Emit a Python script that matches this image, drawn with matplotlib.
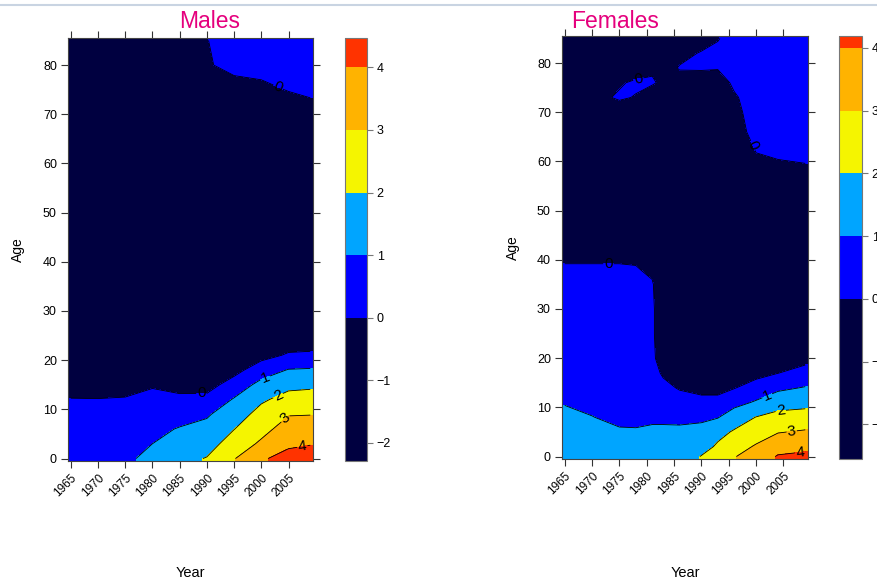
import numpy as np
import matplotlib
matplotlib.use('Agg')
import matplotlib.pyplot as plt
from matplotlib.lines import Line2D

plt.rcParams['font.family'] = ['Liberation Sans', 'DejaVu Sans']

# Males: grid, one list per year (values over ages)
male_years = [1965, 1970, 1975, 1980, 1985, 1990, 1995, 2000, 2005, 2009]
male_ages = [0, 3, 6, 9, 12, 15, 18, 21, 25, 30, 40, 50, 60, 70, 75, 80, 85]
male_values = [
    [0.90, 0.80, 0.60, 0.35, 0.03, -0.30, -0.60, -0.90, -1.20, -1.50, -1.90, -2.10, -1.80, -1.30, -1.00, -0.80, -0.60],
    [0.90, 0.80, 0.60, 0.35, 0.02, -0.30, -0.60, -0.90, -1.20, -1.60, -2.00, -2.29, -1.90, -1.30, -1.00, -0.80, -0.60],
    [0.80, 0.75, 0.60, 0.40, 0.05, -0.25, -0.55, -0.85, -1.20, -1.50, -1.90, -2.10, -1.80, -1.20, -0.90, -0.70, -0.50],
    [1.30, 1.00, 0.80, 0.55, 0.30, -0.10, -0.50, -0.80, -1.10, -1.40, -1.80, -2.00, -1.70, -1.10, -0.80, -0.60, -0.45],
    [1.70, 1.35, 1.05, 0.70, 0.20, -0.30, -0.60, -0.90, -1.10, -1.40, -1.80, -2.00, -1.70, -1.00, -0.70, -0.45, -0.25],
    [2.05, 1.60, 1.25, 0.90, 0.25, -0.35, -0.60, -0.90, -1.10, -1.40, -1.70, -1.90, -1.60, -0.80, -0.45, -0.05, -0.02],
    [2.95, 2.45, 1.98, 1.50, 1.08, 0.40, -0.30, -0.70, -1.00, -1.30, -1.60, -1.80, -1.40, -0.50, -0.20, 0.15, 0.30],
    [3.90, 3.15, 2.70, 2.35, 1.85, 1.30, 0.50, -0.30, -0.80, -1.10, -1.40, -1.60, -1.20, -0.40, -0.10, 0.15, 0.35],
    [4.30, 3.85, 3.40, 2.95, 2.35, 1.75, 1.05, 0.10, -0.60, -0.90, -1.20, -1.40, -1.00, -0.25, 0.02, 0.25, 0.40],
    [4.47, 3.95, 3.50, 2.97, 2.45, 1.80, 1.10, 0.15, -0.60, -0.90, -1.20, -1.40, -1.00, -0.20, 0.10, 0.30, 0.45],
]

# Females
female_years = [1965, 1970, 1975, 1978, 1981, 1983, 1986, 1990, 1993, 1996, 2000, 2004, 2009]
female_ages = [0, 2, 5, 8, 11, 14, 17, 20, 25, 30, 35, 38, 41, 50, 58, 62, 66, 70, 73, 76, 79, 82, 85]
female_values = [
    [1.50, 1.40, 1.25, 1.12, 0.97, 0.85, 0.75, 0.65, 0.55, 0.45, 0.30, 0.10, -0.15, -1.00, -1.60, -1.80, -1.80, -1.50, -1.20, -1.00, -0.90, -0.90, -0.90],
    [1.45, 1.30, 1.15, 1.01, 0.90, 0.80, 0.70, 0.62, 0.55, 0.45, 0.30, 0.10, -0.15, -1.20, -1.80, -2.00, -1.90, -0.80, -0.30, -0.60, -0.90, -0.90, -0.90],
    [1.35, 1.20, 1.05, 0.90, 0.80, 0.72, 0.65, 0.60, 0.55, 0.45, 0.30, 0.10, -0.15, -1.30, -2.00, -2.30, -2.00, -0.50, 0.12, -0.10, -0.70, -0.80, -0.90],
    [1.30, 1.18, 1.04, 0.90, 0.80, 0.72, 0.65, 0.60, 0.55, 0.45, 0.30, 0.08, -0.20, -1.40, -2.10, -2.40, -2.10, -1.00, -0.05, 0.15, -0.50, -0.80, -0.90],
    [1.25, 1.15, 1.04, 0.96, 0.85, 0.60, 0.40, 0.25, 0.20, 0.20, 0.10, -0.20, -0.50, -1.50, -2.20, -2.55, -2.20, -1.20, -0.60, 0.12, -0.15, -0.60, -0.70],
    [1.30, 1.17, 1.05, 0.95, 0.70, 0.30, -0.15, -0.60, -0.80, -0.80, -0.80, -0.90, -1.00, -1.60, -2.20, -2.40, -2.20, -1.40, -0.90, -0.20, -0.30, -0.20, -0.30],
    [1.35, 1.20, 1.07, 0.92, 0.50, -0.10, -0.60, -1.00, -1.20, -1.20, -1.20, -1.20, -1.30, -1.70, -2.00, -2.00, -1.80, -1.30, -0.90, -0.30, 0.05, -0.20, -0.50],
    [2.05, 1.60, 1.25, 0.85, 0.30, -0.30, -0.70, -1.00, -1.20, -1.30, -1.30, -1.30, -1.30, -1.50, -1.70, -1.70, -1.50, -1.10, -0.80, -0.50, 0.10, 0.05, -0.30],
    [2.50, 2.15, 1.70, 0.95, 0.30, -0.30, -0.70, -1.00, -1.20, -1.30, -1.30, -1.30, -1.30, -1.40, -1.50, -1.40, -1.20, -0.90, -0.60, -0.40, 0.05, 0.20, -0.05],
    [2.95, 2.60, 2.10, 1.50, 0.70, -0.05, -0.50, -0.80, -1.00, -1.20, -1.20, -1.20, -1.20, -1.20, -1.00, -0.80, -0.40, -0.25, -0.10, 0.15, 0.30, 0.40, 0.35],
    [3.45, 3.10, 2.55, 2.02, 1.10, 0.40, -0.30, -0.70, -1.00, -1.20, -1.20, -1.20, -1.20, -1.00, -0.30, 0.02, 0.30, 0.40, 0.40, 0.42, 0.45, 0.45, 0.45],
    [4.08, 3.62, 2.95, 2.30, 1.60, 0.80, -0.02, -0.50, -0.90, -1.10, -1.20, -1.20, -1.20, -0.90, -0.15, 0.10, 0.25, 0.35, 0.40, 0.42, 0.45, 0.45, 0.45],
    [4.19, 3.80, 3.10, 2.40, 1.70, 1.05, 0.35, -0.30, -0.80, -1.00, -1.10, -1.10, -1.10, -0.80, -0.10, 0.15, 0.30, 0.38, 0.40, 0.42, 0.45, 0.45, 0.45],
]

year_ticks = [1965, 1970, 1975, 1980, 1985, 1990, 1995, 2000, 2005]
age_ticks = [0, 10, 20, 30, 40, 50, 60, 70, 80]
bar_ticks = [-2, -1, 0, 1, 2, 3, 4]
line_levels = [0, 1, 2, 3, 4]
colors = ['#000040', '#0000ff', '#00a5ff', '#f5f500', '#ffb300', '#ff3300']

male_labels = [(1989, 14.5), (2003.5, 76.5), (2000.5, 17), (2003, 13), (2004.5, 8), (2007.5, 2.7)]
female_labels = [(1978.5, 76.5), (1999, 63), (1973, 39.4), (2002, 12.5), (2004.5, 9.5), (2006.5, 5.3), (2008, 1.1)]

W, H = 877, 578
fig = plt.figure(figsize=(W / 100, H / 100), dpi=100)
fig.add_artist(Line2D([0, 1], [1 - 5 / H, 1 - 5 / H], color='#c9d4e2', lw=1.5,
                      transform=fig.transFigure))


def draw_panel(years, ages, values, label_pos, ax_px, cb_px, title, title_x, age_x):
    x = np.array(years, dtype=float)
    y = np.array(ages, dtype=float)
    z = np.array(values).T
    # stretch by half a cell so the image fills the frame like levelplot does
    xs = np.r_[x[0] - 0.5, x, x[-1] + 0.5]
    ys = np.r_[y[0] - 0.5, y, y[-1] + 0.5]
    zs = np.pad(z, 1, mode='edge')
    levels = [z.min(), 0, 1, 2, 3, 4, z.max()]

    l, r, t, b = ax_px
    ax = fig.add_axes([l / W, 1 - b / H, (r - l) / W, (b - t) / H])
    cf = ax.contourf(xs, ys, zs, levels=levels, colors=colors)
    cs = ax.contour(x, y, z, levels=line_levels, colors='black', linewidths=0.6)
    ax.clabel(cs, fmt='%d', fontsize=11, inline=True, inline_spacing=1, manual=label_pos)
    ax.set_xlim(xs[0], xs[-1])
    ax.set_ylim(ys[0], ys[-1])
    ax.set_xticks(year_ticks)
    ax.set_xticklabels([str(v) for v in year_ticks], rotation=45, ha='right',
                       rotation_mode='anchor', fontsize=8.5)
    ax.set_yticks(age_ticks)
    ax.set_yticklabels([str(v) for v in age_ticks], fontsize=9)
    ax.tick_params(top=True, right=True, direction='out', length=5, width=0.8,
                   color='#333333', pad=3)
    for s in ax.spines.values():
        s.set_color('#444444')
        s.set_linewidth(0.8)

    cl, cr = cb_px
    cax = fig.add_axes([cl / W, 1 - b / H, (cr - cl) / W, (b - t) / H])
    cb = fig.colorbar(cf, cax=cax, spacing='proportional', ticks=bar_ticks)
    cb.outline.set_edgecolor('#777777')
    cb.outline.set_linewidth(0.8)
    cax.tick_params(direction='out', length=4, width=0.8, color='#777777',
                    labelsize=9, pad=3)

    fig.text(title_x / W, 1 - 22 / H, title, color='#e5007d', fontsize=16.5,
             ha='center', va='center')
    fig.text(age_x / W, 1 - ((t + b) / 2) / H, 'Age', rotation=90, fontsize=10,
             ha='center', va='center')
    fig.text(((l + r) / 2) / W, 1 - 573 / H, 'Year', fontsize=10.5,
             ha='center', va='center')


draw_panel(male_years, male_ages, male_values, male_labels,
           (68, 313, 38, 461), (345, 367), 'Males', 210, 18)
draw_panel(female_years, female_ages, female_values, female_labels,
           (562, 808, 36, 459), (839, 862), 'Females', 615, 513)

fig.savefig('out.png', dpi=100)
